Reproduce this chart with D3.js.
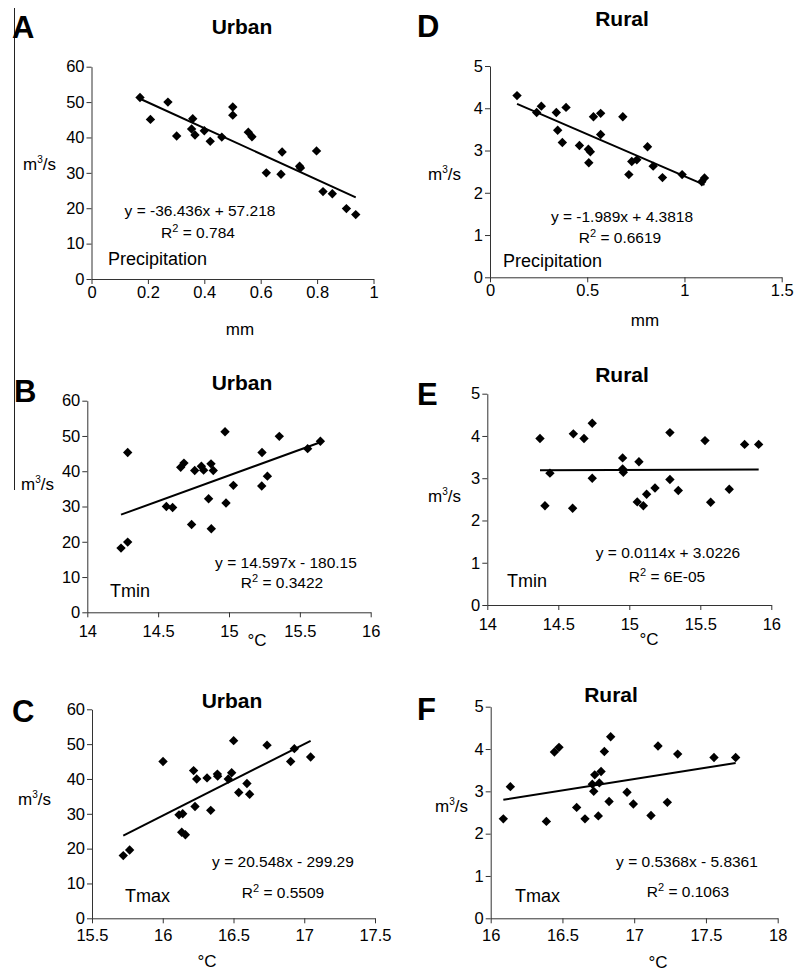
<!DOCTYPE html>
<html>
<head>
<meta charset="utf-8">
<script src="https://cdn.jsdelivr.net/npm/d3@7"></script>
<style>
  body { margin: 0; background: #fff; }
  svg { display: block; }
  text { font-family: Arial, "Liberation Sans", sans-serif; fill: #000; }
</style>
</head>
<body>
<svg id="fig" width="798" height="973"></svg>
<script>
// ---- data ----
var precipUrbanX = [0.172,0.209,0.271,0.302,0.359,0.355,0.367,0.400,0.421,0.462,0.501,0.501,0.556,0.569,0.620,0.676,0.672,0.738,0.741,0.798,0.821,0.854,0.904,0.937];
var precipUrbanY = [51.3,45.1,50.0,40.4,45.3,42.4,40.7,41.9,38.9,40.1,48.6,46.3,41.5,40.2,30.0,35.9,29.6,31.9,31.4,36.2,24.7,24.1,19.9,18.2];

var tminUrbanX = [14.238,14.285,14.285,14.558,14.602,14.659,14.682,14.736,14.758,14.805,14.821,14.856,14.873,14.875,14.889,14.972,14.979,15.031,15.231,15.233,15.271,15.355,15.555,15.645];
var tminUrbanY = [18.2,19.9,45.3,30.0,29.7,41.1,42.3,24.9,40.2,41.4,40.3,32.2,42.1,23.7,40.2,51.2,31.0,36.0,35.8,45.3,38.6,49.9,46.4,48.5];

var tmaxUrbanX = [15.721,15.766,16.002,16.115,16.141,16.134,16.160,16.218,16.240,16.228,16.313,16.339,16.386,16.388,16.463,16.487,16.501,16.537,16.595,16.614,16.737,16.904,16.930,17.045];
var tmaxUrbanY = [18.0,19.6,45.0,29.7,30.0,24.7,24.0,42.4,40.0,32.1,40.3,31.0,41.4,40.8,40.0,41.8,51.0,36.1,38.7,35.6,49.7,45.0,48.7,46.3];

var precipRuralX = [0.139,0.240,0.264,0.341,0.391,0.348,0.372,0.460,0.506,0.516,0.508,0.532,0.569,0.569,0.683,0.714,0.729,0.755,0.810,0.839,0.887,0.988,1.089,1.103];
var precipRuralY = [4.30,3.90,4.05,3.90,4.02,3.48,3.19,3.12,3.03,2.97,2.71,3.80,3.88,3.38,3.80,2.43,2.74,2.78,3.09,2.63,2.36,2.43,2.26,2.35];

var tminRuralX = [14.371,14.406,14.441,14.606,14.601,14.681,14.739,14.739,14.953,14.953,14.958,15.068,15.056,15.099,15.122,15.181,15.286,15.286,15.345,15.533,15.573,15.704,15.812,15.911];
var tminRuralY = [3.94,2.35,3.12,4.05,2.29,3.94,4.30,3.00,3.48,3.22,3.14,3.39,2.44,2.35,2.62,2.77,4.08,2.97,2.71,3.89,2.43,2.74,3.80,3.80];

var tmaxRuralX = [16.088,16.137,16.388,16.444,16.476,16.599,16.657,16.708,16.718,16.725,16.750,16.757,16.769,16.792,16.825,16.836,16.950,16.994,17.117,17.166,17.231,17.303,17.556,17.707];
var tmaxRuralY = [2.35,3.11,2.29,3.93,4.04,2.62,2.35,3.17,3.00,3.39,2.42,3.20,3.47,3.94,2.76,4.29,2.98,2.70,2.43,4.07,2.74,3.88,3.80,3.80];

// regression lines as printed on the chart: [slope, intercept]
var fitA = [-36.436, 57.218], fitB = [14.597, -180.15], fitC = [20.548, -299.29];
var fitD = [-1.989, 4.3818], fitE = [0.0114, 3.0226], fitF = [0.5368, -5.8361];

var eqText = ["y = -36.436x + 57.218", "y = 14.597x - 180.15", "y = 20.548x - 299.29",
              "y = -1.989x + 4.3818", "y = 0.0114x + 3.0226", "y = 0.5368x - 5.8361"];
var r2Text = ["0.784", "0.3422", "0.5509", "0.6619", "6E-05", "0.1063"];

var urbanYTicks = [0, 10, 20, 30, 40, 50, 60];
var ruralYTicks = [0, 1, 2, 3, 4, 5];
var precipUrbanTicks = [0, 0.2, 0.4, 0.6, 0.8, 1];
var precipRuralTicks = [0, 0.5, 1, 1.5];
var tminTicks = [14, 14.5, 15, 15.5, 16];
var tmaxUrbanTicks = [15.5, 16, 16.5, 17, 17.5];
var tmaxRuralTicks = [16, 16.5, 17, 17.5, 18];

var svg = d3.select("#fig");

// thin rule at the left edge of the top panels
svg.append("line").attr("x1", 14.5).attr("x2", 14.5).attr("y1", 8).attr("y2", 490)
  .attr("stroke", "#222").attr("stroke-width", 1);

var diamond = d3.symbol().type(d3.symbolSquare).size(44);

function panel(p) {
  var x = d3.scaleLinear().domain([p.xTicks[0], p.xTicks[p.xTicks.length - 1]]).range([p.x0, p.x1]);
  var y = d3.scaleLinear().domain([p.yTicks[0], p.yTicks[p.yTicks.length - 1]]).range([p.y0, p.y1]);
  var g = svg.append("g");

  var ax = g.append("g").attr("transform", "translate(0," + p.y0 + ")")
    .call(d3.axisBottom(x).tickValues(p.xTicks).tickSize(5).tickSizeOuter(0).tickPadding(p.xPad)
      .tickFormat(String));
  var ay = g.append("g").attr("transform", "translate(" + p.x0 + ",0)")
    .call(d3.axisLeft(y).tickValues(p.yTicks).tickSize(5).tickSizeOuter(0).tickPadding(2)
      .tickFormat(String));
  [ax, ay].forEach(function(a) {
    a.selectAll("path, line").attr("stroke", "#333");
    a.selectAll("text").attr("font-size", 16.5).attr("font-family", "Arial, 'Liberation Sans', sans-serif").attr("fill", "#000");
  });

  // trend line over the data range
  var xs = d3.extent(p.xs);
  g.append("path")
    .datum(xs)
    .attr("d", d3.line().x(function(d) { return x(d); }).y(function(d) { return y(p.fit[0] * d + p.fit[1]); }))
    .attr("stroke", "#000").attr("stroke-width", 2).attr("fill", "none");

  g.selectAll(".pt").data(d3.zip(p.xs, p.ys)).enter().append("path")
    .attr("d", diamond)
    .attr("transform", function(d) { return "translate(" + x(d[0]) + "," + y(d[1]) + ") rotate(45)"; })
    .attr("fill", "#000");

  // panel letter and title
  g.append("text").attr("x", p.letter[0]).attr("y", p.letter[1]).attr("font-size", 31)
    .attr("font-weight", "bold").text(p.id);
  g.append("text").attr("x", p.title[0]).attr("y", p.title[1]).attr("font-size", 21)
    .attr("font-weight", "bold").attr("text-anchor", "middle").text(p.titleText);

  // y unit
  var yl = g.append("text").attr("x", p.ylab[0]).attr("y", p.ylab[1]).attr("font-size", 17);
  yl.append("tspan").text("m");
  yl.append("tspan").attr("font-size", 10).attr("dy", -7).text("3");
  yl.append("tspan").attr("dy", 7).text("/s");

  // x unit
  g.append("text").attr("x", p.xlab[0]).attr("y", p.xlab[1]).attr("font-size", 17)
    .attr("text-anchor", "middle").text(p.xlabText);

  // equation and R²
  g.append("text").attr("x", p.eq[0]).attr("y", p.eq[1]).attr("font-size", 15.5)
    .attr("text-anchor", "middle").text(eqText[p.k]);
  var r = g.append("text").attr("x", p.r2[0]).attr("y", p.r2[1]).attr("font-size", 15.5)
    .attr("text-anchor", "middle");
  r.append("tspan").text("R");
  r.append("tspan").attr("font-size", 11).attr("dy", -6).text("2");
  r.append("tspan").attr("dy", 6).text(" = " + r2Text[p.k]);

  g.append("text").attr("x", p.note[0]).attr("y", p.note[1]).attr("font-size", 18).text(p.noteText);
}

var panels = [
  { id: "A", k: 0, titleText: "Urban", xs: precipUrbanX, ys: precipUrbanY, fit: fitA,
    xTicks: precipUrbanTicks, yTicks: urbanYTicks, x0: 91.5, x1: 373.5, y0: 279, y1: 66.7, xPad: 2,
    letter: [12, 38], title: [242, 34], ylab: [23, 170], xlab: [240, 335], xlabText: "mm",
    eq: [200, 216], r2: [198, 238], note: [108, 265], noteText: "Precipitation" },
  { id: "B", k: 1, titleText: "Urban", xs: tminUrbanX, ys: tminUrbanY, fit: fitB,
    xTicks: tminTicks, yTicks: urbanYTicks, x0: 87.3, x1: 370.7, y0: 612.3, y1: 400.7, xPad: 8,
    letter: [14, 402], title: [242, 390], ylab: [21, 490], xlab: [257, 646], xlabText: "\u00b0C",
    eq: [286, 568], r2: [282, 588], note: [110, 597], noteText: "Tmin" },
  { id: "C", k: 2, titleText: "Urban", xs: tmaxUrbanX, ys: tmaxUrbanY, fit: fitC,
    xTicks: tmaxUrbanTicks, yTicks: urbanYTicks, x0: 92, x1: 375, y0: 918.3, y1: 709.3, xPad: 6,
    letter: [12, 722], title: [232, 708], ylab: [18, 805], xlab: [207, 967], xlabText: "\u00b0C",
    eq: [283, 867], r2: [283, 898], note: [125, 902], noteText: "Tmax" },
  { id: "D", k: 3, titleText: "Rural", xs: precipRuralX, ys: precipRuralY, fit: fitD,
    xTicks: precipRuralTicks, yTicks: ruralYTicks, x0: 490, x1: 781.7, y0: 277.3, y1: 66, xPad: 2,
    letter: [417, 37], title: [622, 26], ylab: [428, 180], xlab: [645, 326], xlabText: "mm",
    eq: [622, 222], r2: [620, 243], note: [503, 267], noteText: "Precipitation" },
  { id: "E", k: 4, titleText: "Rural", xs: tminRuralX, ys: tminRuralY, fit: fitE,
    xTicks: tminTicks, yTicks: ruralYTicks, x0: 487.3, x1: 771.3, y0: 605, y1: 393.7, xPad: 8,
    letter: [417, 405], title: [622, 382], ylab: [428, 502], xlab: [649, 645], xlabText: "\u00b0C",
    eq: [668, 558], r2: [667, 582], note: [507, 587], noteText: "Tmin" },
  { id: "F", k: 5, titleText: "Rural", xs: tmaxRuralX, ys: tmaxRuralY, fit: fitF,
    xTicks: tmaxRuralTicks, yTicks: ruralYTicks, x0: 490.7, x1: 777.7, y0: 918.3, y1: 706.7, xPad: 6,
    letter: [417, 720], title: [611, 702], ylab: [435, 812], xlab: [658, 968], xlabText: "\u00b0C",
    eq: [687, 867], r2: [688, 897], note: [515, 902], noteText: "Tmax" }
];

panels.forEach(panel);
</script>
</body>
</html>
